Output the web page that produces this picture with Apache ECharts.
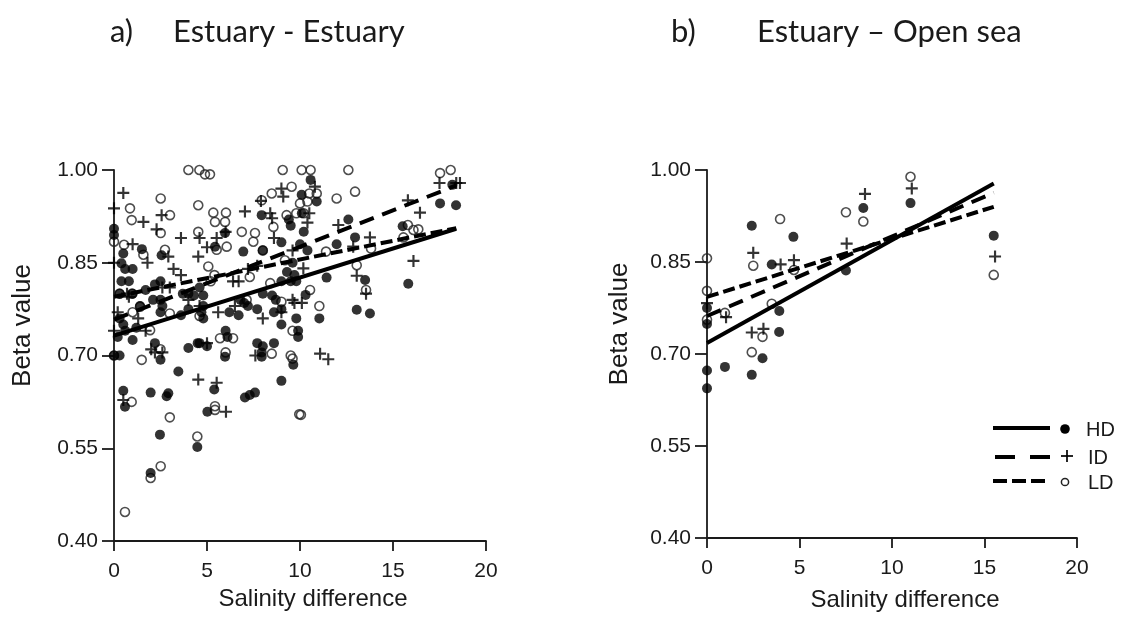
<!DOCTYPE html>
<html>
<head>
<meta charset="utf-8">
<script src="https://cdn.jsdelivr.net/npm/echarts@6/dist/echarts.min.js"></script>
<style>
html,body{margin:0;padding:0;background:#fff;}
#chart{width:1133px;height:617px;}
</style>
</head>
<body>
<div id="chart"></div>
<script>
// ---------- DATA ----------
const xTicks = [0, 5, 10, 15, 20];
const yTicks = [0.40, 0.55, 0.70, 0.85, 1.00];
const groupNames = ['HD', 'ID', 'LD'];

// Panel a) Estuary - Estuary : [salinity difference, beta value]
const estEstHD = [
 [0,0.905],[0,0.895],[0.5,0.865],[0.4,0.849],[1.5,0.872],[2.56,0.862],[5.43,0.876],[5.97,0.898],[7.94,0.927],[6.95,0.868],
 [8.0,0.87],[9.0,0.883],[9.4,0.92],[9.5,0.91],[0.6,0.84],[1.0,0.84],[0.4,0.82],[0.8,0.82],[0.3,0.80],[1.0,0.80],
 [2.5,0.82],[2.2,0.815],[1.7,0.806],[2.5,0.79],[2.6,0.78],[2.5,0.77],[2.1,0.79],[3.7,0.80],[4.0,0.80],[4.3,0.797],
 [4.6,0.81],[4.8,0.797],[4.8,0.78],[4.7,0.77],[4.8,0.76],[3.6,0.765],[4.0,0.775],[7.2,0.78],[7.7,0.775],[8.0,0.80],
 [8.5,0.797],[8.7,0.79],[9.0,0.82],[9.3,0.835],[9.5,0.82],[8.6,0.77],[9.0,0.775],[6.2,0.77],[6.7,0.765],[6.8,0.79],
 [7.0,0.785],[0.3,0.76],[0.5,0.75],[0.6,0.74],[0.2,0.73],[1.2,0.745],[1.4,0.78],[4.6,0.72],[5.0,0.715],[6.0,0.74],
 [6.1,0.73],[7.7,0.72],[8.0,0.715],[8.6,0.72],[9.0,0.75],[9.8,0.76],[9.9,0.73],[2.2,0.72],[4.0,0.712],[4.5,0.72],
 [1.0,0.725],[3.46,0.674],[5.97,0.698],[7.94,0.698],[7.94,0.705],[9.64,0.685],[9.0,0.659],[0.5,0.643],[0.59,0.617],[1.97,0.64],
 [2.92,0.639],[2.83,0.634],[5.39,0.645],[7.04,0.632],[7.3,0.636],[7.58,0.64],[5.02,0.609],[2.47,0.572],[4.48,0.552],[1.97,0.51],
 [0,0.70],[0.3,0.70],[2.5,0.693],
 [10.57,0.984],[10.09,0.96],[10.9,0.949],[18.39,0.943],[17.53,0.946],[18.19,0.976],[12.6,0.92],[15.52,0.909],[11.97,0.88],[12.96,0.891],
 [11.43,0.826],[13.5,0.822],[15.82,0.816],[10.3,0.798],[13.05,0.774],[13.76,0.768],[11.04,0.76],[9.9,0.74],[10.1,0.93],[10.2,0.90],
 [10.0,0.88],[10.4,0.87],[9.6,0.85],[9.7,0.83],[9.8,0.82]
];
const estEstID = [
 [0.5,0.963],[0,0.938],[1.58,0.916],[2.56,0.927],[2.29,0.904],[1.0,0.88],[2.92,0.86],[4.53,0.86],[5.52,0.89],[4.6,0.89],
 [7.04,0.933],[8.4,0.93],[8.5,0.922],[7.9,0.95],[9.0,0.97],[9.1,0.957],[3.2,0.84],[3.6,0.83],[1.8,0.85],[6.4,0.82],
 [6.7,0.82],[9.6,0.79],[9.0,0.77],[0,0.74],[2.6,0.81],[3.0,0.81],[4.6,0.78],[7.2,0.84],[7.7,0.845],[8.6,0.89],
 [9.6,0.87],[0,0.85],[0.2,0.77],[0.8,0.795],[1.7,0.74],[5.0,0.72],[2.0,0.71],[2.2,0.705],[2.6,0.705],[4.53,0.661],
 [5.52,0.656],[0.5,0.628],[6.02,0.609],[11.08,0.703],[11.52,0.694],[9.7,0.785],[10.1,0.785],
 [10.8,0.973],[18.4,0.979],[18.6,0.979],[17.5,0.979],[16.45,0.931],[15.8,0.951],[13.76,0.891],[12.06,0.911],[12.86,0.876],
 [16.1,0.853],[13.05,0.829],[13.55,0.80],[10.18,0.841],[10.5,0.93],[10.4,0.915],[6.0,0.90],[5.0,0.875],[4.0,0.79],[3.6,0.89],
 [8.0,0.76],[7.6,0.70],[0.7,0.80],[1.3,0.76],[6.5,0.78],[5.6,0.77]
];
const estEstLD = [
 [4.0,1.0],[4.59,1.0],[4.89,0.993],[5.16,0.993],[9.07,1.0],[9.55,0.973],[2.51,0.954],[4.53,0.943],[0.86,0.938],[0.95,0.919],
 [3.01,0.927],[5.34,0.931],[6.02,0.931],[5.43,0.916],[5.97,0.916],[8.48,0.962],[7.94,0.951],[9.28,0.927],[6.87,0.90],[7.58,0.898],
 [8.57,0.908],[4.53,0.90],[2.51,0.898],[0,0.884],[0.54,0.879],[2.74,0.871],[1.58,0.863],[5.52,0.871],[6.06,0.876],[7.49,0.884],
 [8.0,0.87],[5.07,0.844],[0.3,0.80],[0.97,0.80],[5.2,0.82],[5.4,0.83],[7.3,0.827],[9.19,0.854],[8.4,0.817],[7.13,0.79],
 [1.4,0.779],[3.0,0.768],[4.6,0.764],[9.0,0.787],[9.6,0.74],[6.4,0.728],[5.7,0.728],[1.94,0.741],[1.0,0.77],
 [0,0.70],[1.49,0.693],[2.5,0.71],[6.0,0.705],[8.48,0.703],[9.5,0.70],[0.95,0.625],[3.0,0.60],[5.43,0.618],[5.43,0.612],
 [4.48,0.569],[2.51,0.521],[1.97,0.502],[0.59,0.447],[9.96,0.605],
 [11.04,0.78],[9.6,0.695],[10.05,0.604],[10.09,1.0],[10.57,1.0],[12.6,1.0],[18.1,1.0],[17.53,0.995],[12.96,0.965],[11.97,0.954],
 [10.9,0.962],[10.5,0.962],[10.4,0.949],[10.0,0.946],[16.36,0.904],[16.1,0.903],[15.8,0.911],[15.56,0.891],[13.82,0.873],[13.05,0.846],
 [13.55,0.806],[10.54,0.806],[11.4,0.868],[9.8,0.93],[10.2,0.93]
];
// regression lines panel a) (start, end)
const estEstFitHD = [[0,0.732],[18.4,0.905]];
const estEstFitID = [[0,0.758],[18.4,0.975]];
const estEstFitLD = [[0,0.795],[18.4,0.906]];

// Panel b) Estuary - Open sea
const estSeaHD = [
 [2.42,0.909],[4.67,0.891],[3.5,0.846],[8.45,0.938],[7.51,0.836],[3.91,0.770],[3.9,0.736],[0,0.775],[0,0.749],[2.42,0.666],
 [3.0,0.693],[0.97,0.679],[0,0.673],[0,0.644],[11.0,0.946],[15.5,0.893]
];
const estSeaID = [
 [2.5,0.865],[3.98,0.846],[4.7,0.853],[8.54,0.961],[7.55,0.880],[0,0.783],[1.03,0.760],[2.42,0.735],[3.05,0.741],[11.07,0.970],
 [15.57,0.859]
];
const estSeaLD = [
 [0,0.856],[0,0.803],[0,0.756],[0.97,0.767],[2.5,0.844],[3.95,0.920],[4.7,0.837],[3.5,0.782],[7.51,0.931],[8.45,0.916],
 [3.0,0.728],[2.42,0.703],[11.0,0.989],[15.5,0.829]
];
const estSeaFitHD = [[0,0.718],[15.5,0.978]];
const estSeaFitID = [[0,0.762],[15.5,0.963]];
const estSeaFitLD = [[0,0.793],[15.5,0.940]];

// ---------- STYLE ----------
const INK = '#1a1a1a';
const FONT = 'Liberation Sans, Arial, sans-serif';
const TFONT = 'Lato, sans-serif';
const PLUS = 'path://M4.1,0H5.9V4.1H10V5.9H5.9V10H4.1V5.9H0V4.1H4.1Z';
const dashID = [15, 9];
const dashLD = [12, 5];

function xAxisFor(g) {
  return {
    gridIndex: g, type: 'value', min: xTicks[0], max: xTicks[xTicks.length - 1], interval: xTicks[1] - xTicks[0],
    axisLine: { show: true, onZero: false, lineStyle: { color: INK, width: 1.8 } },
    axisTick: { show: true, length: 10, lineStyle: { color: INK, width: 1.8 } },
    axisLabel: { fontSize: 21, color: INK, margin: 20, fontFamily: FONT },
    splitLine: { show: false },
    name: 'Salinity difference', nameLocation: 'middle', nameGap: g === 0 ? 43 : 50,
    nameTextStyle: { fontSize: 24, color: INK, fontFamily: FONT, padding: [0, 0, 0, 26] }
  };
}
function yAxisFor(g) {
  return {
    gridIndex: g, type: 'value', min: yTicks[0], max: yTicks[yTicks.length - 1], interval: 0.15,
    axisLine: { show: true, onZero: false, lineStyle: { color: INK, width: 1.8 } },
    axisTick: { show: true, length: 12, lineStyle: { color: INK, width: 1.8 } },
    axisLabel: { fontSize: 21, color: INK, margin: 16, fontFamily: FONT, formatter: v => v.toFixed(2) },
    splitLine: { show: false },
    name: 'Beta value', nameLocation: 'middle', nameGap: g === 0 ? 78 : 74,
    nameTextStyle: { fontSize: 26, color: INK, fontFamily: FONT, padding: [0, 0, 0, 60] }
  };
}
function scatter(g, data, kind) {
  const s = { type: 'scatter', xAxisIndex: g, yAxisIndex: g, data: data, clip: false, z: 2 };
  if (kind === 'HD') { s.symbol = 'circle'; s.symbolSize = 10; s.itemStyle = { color: '#000' }; }
  if (kind === 'ID') { s.symbol = PLUS; s.symbolSize = 12; s.itemStyle = { color: '#000' }; }
  if (kind === 'LD') { s.symbol = 'circle'; s.symbolSize = 9; s.itemStyle = { color: 'rgba(255,255,255,0)', borderColor: '#222', borderWidth: 1.6 }; }
  return s;
}
function fit(g, data, type) {
  return { type: 'line', xAxisIndex: g, yAxisIndex: g, data: data, showSymbol: false, symbol: 'none', z: 5,
    lineStyle: { color: '#000', width: 4, type: type, cap: 'butt' } };
}
function titleAt(text, left) {
  return { text: text, left: left, top: 11, textStyle: { fontFamily: TFONT, fontWeight: 'normal', fontSize: 31, color: INK } };
}

const option = {
  animation: false,
  backgroundColor: '#fff',
  title: [
    titleAt('a)', 105), titleAt('Estuary - Estuary', 168),
    titleAt('b)', 666), titleAt('Estuary \u2013 Open sea', 752)
  ],
  grid: [
    { left: 114, top: 170, width: 372, height: 371 },
    { left: 707, top: 170, width: 370, height: 371 }
  ],
  xAxis: [xAxisFor(0), xAxisFor(1)],
  yAxis: [yAxisFor(0), yAxisFor(1)],
  series: [
    scatter(0, estEstLD, 'LD'), scatter(0, estEstID, 'ID'), scatter(0, estEstHD, 'HD'),
    fit(0, estEstFitHD, 'solid'), fit(0, estEstFitID, dashID), fit(0, estEstFitLD, dashLD),
    scatter(1, estSeaLD, 'LD'), scatter(1, estSeaID, 'ID'), scatter(1, estSeaHD, 'HD'),
    fit(1, estSeaFitHD, 'solid'), fit(1, estSeaFitID, dashID), fit(1, estSeaFitLD, dashLD)
  ],
  graphic: [
    { type: 'line', shape: { x1: 993, y1: 428, x2: 1050, y2: 428 }, style: { stroke: '#000', lineWidth: 4 } },
    { type: 'circle', shape: { cx: 1065, cy: 429, r: 4.8 }, style: { fill: '#000' } },
    { type: 'text', x: 1086, y: 430, style: { text: groupNames[0], font: '20px ' + FONT, fill: INK, verticalAlign: 'middle' } },
    { type: 'line', shape: { x1: 995, y1: 457, x2: 1050, y2: 457 }, style: { stroke: '#000', lineWidth: 4, lineDash: [20, 15] } },
    { type: 'line', shape: { x1: 1061, y1: 456, x2: 1073, y2: 456 }, style: { stroke: '#000', lineWidth: 1.7 } },
    { type: 'line', shape: { x1: 1067, y1: 450, x2: 1067, y2: 462 }, style: { stroke: '#000', lineWidth: 1.7 } },
    { type: 'text', x: 1088, y: 458, style: { text: groupNames[1], font: '20px ' + FONT, fill: INK, verticalAlign: 'middle' } },
    { type: 'line', shape: { x1: 993, y1: 481, x2: 1046, y2: 481 }, style: { stroke: '#000', lineWidth: 4, lineDash: [14, 5] } },
    { type: 'circle', shape: { cx: 1065, cy: 482, r: 3.6 }, style: { fill: '#fff', stroke: '#222', lineWidth: 1.5 } },
    { type: 'text', x: 1088, y: 483, style: { text: groupNames[2], font: '20px ' + FONT, fill: INK, verticalAlign: 'middle' } }
  ]
};

const chart = echarts.init(document.getElementById('chart'), null, { renderer: 'canvas' });
chart.setOption(option);
</script>
</body>
</html>
